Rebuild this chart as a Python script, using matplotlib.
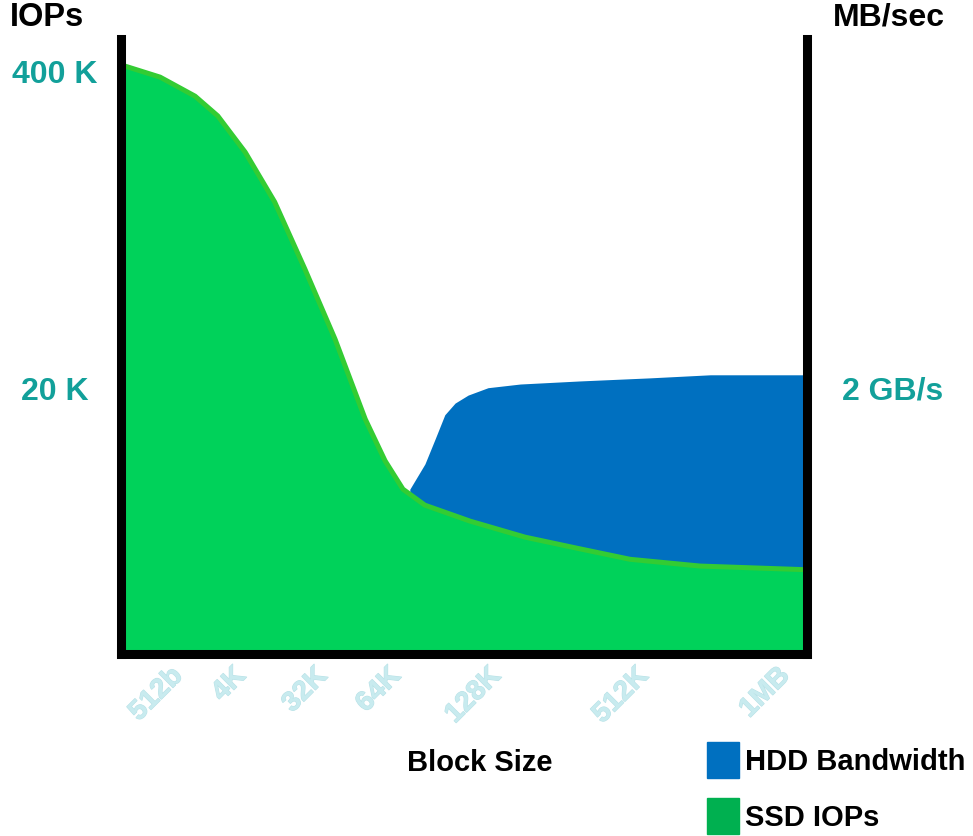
"""
SSD IOPs vs HDD bandwidth across block sizes (conceptual area chart)
"""

import numpy as np
import matplotlib
matplotlib.use('Agg')
import matplotlib.pyplot as plt
import matplotlib.patheffects as pe
from matplotlib.patches import Patch

plt.rcParams['font.family'] = ['Liberation Sans', 'DejaVu Sans']
plt.rcParams['font.weight'] = 'bold'

# block size ticks (position along the x axis, 0-100)
block_labels = ['512b', '4K', '32K', '64K', '128K', '512K', '1MB']
block_pos = [8.4, 17.6, 29.5, 40.2, 54.8, 76.3, 96.9]

# SSD IOPs curve, relative height 0-100
ssd_x = [0.0, 5.7, 10.8, 14.1, 18.1, 22.4, 26.8, 31.2, 35.6, 38.5, 41.1,
         44.3, 50.9, 58.9, 66.9, 74.2, 84.4, 100.0]
ssd_y = [95.8, 93.8, 90.7, 87.5, 81.6, 73.5, 62.6, 51.2, 38.2, 31.4, 26.8,
         24.2, 21.6, 19.0, 17.1, 15.4, 14.3, 13.7]

# HDD bandwidth curve (top edge), same scale
hdd_x = [42.1, 44.3, 45.8, 47.2, 48.7, 50.6, 53.5, 58.2, 66.9, 77.1, 85.9, 100.0]
hdd_y = [26.8, 30.9, 35.0, 38.9, 40.8, 42.1, 43.3, 43.9, 44.4, 44.9, 45.4, 45.4]

# left / right axis labels
iops_ticks = [94.8, 43.4]
iops_labels = ['400 K', '20 K']
bw_ticks = [43.4]
bw_labels = ['2 GB/s']

TEAL = '#12a09a'
BLUE = '#0070c0'
GREEN = '#00d25a'
GREEN_EDGE = '#33cc33'
SSD_KEY = '#00b050'
TICK = '#c8ebef'


def main():
    fig = plt.figure(figsize=(9.73, 8.37), dpi=100)
    ax = fig.add_axes([121 / 973, 182 / 837, 686 / 973, 615 / 837])
    ax.set_xlim(0, 100)
    ax.set_ylim(0, 100)

    # HDD area sits on top of the SSD curve
    hdd_base = np.interp(hdd_x, ssd_x, ssd_y)
    ax.fill_between(hdd_x, hdd_base, hdd_y, color=BLUE, lw=0)
    ax.fill_between(ssd_x, 0, ssd_y, color=GREEN, lw=0)
    ax.plot(ssd_x, ssd_y, color=GREEN_EDGE, lw=3.6, solid_capstyle='butt')

    for side in ('left', 'right', 'bottom'):
        ax.spines[side].set_linewidth(6.5)
        ax.spines[side].set_color('black')
    ax.spines['top'].set_visible(False)

    ax.set_xticks(block_pos)
    ax.set_xticklabels(block_labels, rotation=45, ha='right',
                       rotation_mode='anchor', va='center',
                       color=TICK, fontsize=20, fontweight='bold')
    for lbl in ax.get_xticklabels():
        lbl.set_path_effects([pe.withStroke(linewidth=0.8,
                                            foreground='#b9e2e7')])
    ax.tick_params(axis='x', length=0, pad=13)

    ax.set_yticks(iops_ticks)
    ax.set_yticklabels(iops_labels, color=TEAL, fontsize=23,
                       fontweight='bold', ha='center')
    ax.tick_params(axis='y', length=0, pad=48)

    ax2 = ax.twinx()
    ax2.set_ylim(0, 100)
    ax2.set_yticks(bw_ticks)
    ax2.set_yticklabels(bw_labels, color=TEAL, fontsize=23, fontweight='bold')
    ax2.tick_params(axis='y', length=0, pad=25)
    for s in ax2.spines.values():
        s.set_visible(False)

    fig.text(47 / 973, 1 - 18 / 837, 'IOPs', fontsize=23.5, fontweight='bold',
             ha='center', va='center')
    fig.text(889 / 973, 1 - 18 / 837, 'MB/sec', fontsize=23,
             fontweight='bold', ha='center', va='center')
    fig.text(480 / 973, 1 - 763 / 837, 'Block Size', fontsize=21,
             fontweight='bold', ha='center', va='center')

    handles = [Patch(color=BLUE), Patch(color=SSD_KEY)]
    fig.legend(handles, ['HDD Bandwidth', 'SSD IOPs'], loc='upper left',
               bbox_to_anchor=(707 / 973, 1 - 743 / 837), frameon=False,
               handlelength=1.1, handleheight=1.5,
               handletextpad=0.2, labelspacing=0.7, borderpad=0,
               borderaxespad=0, prop={'weight': 'bold', 'size': 21})

    fig.savefig('out.png', dpi=100)


if __name__ == '__main__':
    main()
